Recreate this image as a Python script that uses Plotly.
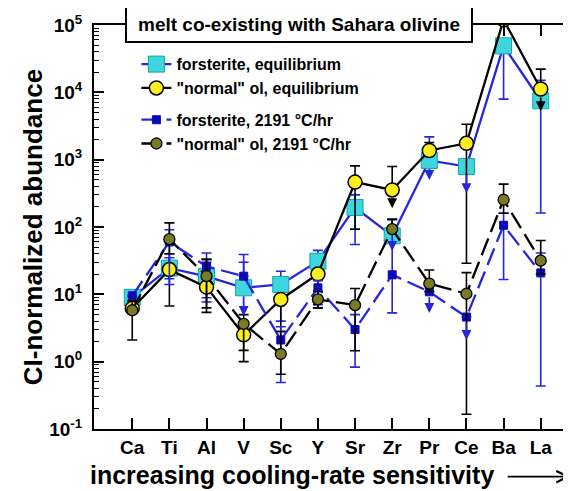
import math
import plotly.graph_objects as go

# ---------------- data ----------------
categories = ["Ca", "Ti", "Al", "V", "Sc", "Y", "Sr", "Zr", "Pr", "Ce", "Ba", "La"]

# forsterite, equilibrium
fo_eq = [9.0, 24.5, 18.5, 12.5, 14.0, 31, 195, 74, 975, 790, 49000, 7500]
fo_eq_hi = [11, 35, 30, 39, 22, 45, 300, 130, 2180, None, None, 15100]
fo_eq_lo = [7.5, 17, 8.9, None, 4.0, 25, 55, None, None, None, 7940, 161]
fo_eq_arrow = [None, None, None, 4.8, None, None, None, 44, 500, 319, None, None]

# "normal" ol, equilibrium
ol_eq = [6.2, 23.3, 12.8, 2.5, 8.4, 20, 464, 355, 1370, 1750, 120000, 11200]
ol_eq_hi = [None, 40, 33, 3.6, None, None, 810, 790, 1800, 3360, None, 22100]
ol_eq_lo = [None, 6.7, 5.4, 1.0, 2.8, 6.3, 93, None, None, 29, None, None]
ol_eq_arrow = [None, None, None, None, None, None, None, 190, None, None, None, 5250]

# forsterite, 2191 C/hr
fo_cr = [9.5, 60, 26, 18.6, 2.1, 12.5, 3.0, 19.5, 10.9, 4.6, 106, 20.8]
fo_cr_hi = [None, 91, 41, 30, 3.3, 16, 5, 130, None, None, 160, 41]
fo_cr_lo = [None, 14, 7.7, None, 0.49, 7, 0.83, 5.3, None, None, 16.6, 0.436]
fo_cr_arrow = [None, None, None, None, None, None, None, None, 5.3, 2.1, None, None]

# "normal" ol, 2191 C/hr
ol_cr = [5.8, 66, 18.6, 3.65, 1.3, 8.4, 6.9, 93, 14.4, 10.2, 254, 31.6]
ol_cr_hi = [8, 115, 33, 5, 2.8, 11, 12.2, 130, 23, 21, 434, 63]
ol_cr_lo = [2.1, 40, 6.3, 1.47, 0.65, 6.3, 1.45, None, 11, 0.166, 160, 20]

# y-axis decades and labels
y_ticks = [1e-1, 1e0, 1e1, 1e2, 1e3, 1e4, 1e5]
y_ticktext = ["10<sup>-1</sup>", "10<sup>0</sup>", "10<sup>1</sup>", "10<sup>2</sup>",
              "10<sup>3</sup>", "10<sup>4</sup>", "10<sup>5</sup>"]

BLUE = "#2626dc"
NAVY = "#0b0bb4"
CYAN = "#3ed6de"
YELLOW = "#ffee1e"
OLIVE = "#7a7a22"
FONT = "Liberation Sans, Arial, sans-serif"

x = list(range(len(categories)))


def err(vals, hi, lo):
    plus = [(h - v) if h is not None else 0 for v, h in zip(vals, hi)]
    minus = [(v - l) if l is not None else 0 for v, l in zip(vals, lo)]
    return plus, minus


fig = go.Figure()


def add_series(name, vals, hi, lo, line_color, dash, marker, err_color, group):
    plus, minus = err(vals, hi, lo)
    fig.add_trace(go.Scatter(
        x=x, y=vals, name=name, mode="lines+markers",
        legendgroup=group,
        line=dict(color=line_color, width=2.3, dash=dash),
        marker=marker,
        error_y=dict(type="data", symmetric=False, array=plus, arrayminus=minus,
                     color=err_color, thickness=1.6, width=5),
    ))


add_series("forsterite, equilibrium", fo_eq, fo_eq_hi, fo_eq_lo, BLUE, "solid",
           dict(symbol="square", size=16, color=CYAN, line=dict(color="#17a3ad", width=1)),
           BLUE, "eq")
add_series('"normal" ol, equilibrium', ol_eq, ol_eq_hi, ol_eq_lo, "black", "solid",
           dict(symbol="circle", size=14, color=YELLOW, line=dict(color="black", width=1.5)),
           "black", "eq")
add_series("forsterite, 2191 °C/hr", fo_cr, fo_cr_hi, fo_cr_lo, BLUE, "18px,7px",
           dict(symbol="square", size=8, color=NAVY, line=dict(color=NAVY, width=1)),
           BLUE, "cr")
add_series('"normal" ol, 2191 °C/hr', ol_cr, ol_cr_hi, ol_cr_lo, "black", "18px,7px",
           dict(symbol="circle", size=11, color=OLIVE, line=dict(color="black", width=1.3)),
           "black", "cr")

# upper-limit arrows
annotations = []
for vals, arrows, col, off in [(fo_eq, fo_eq_arrow, BLUE, 7), (ol_eq, ol_eq_arrow, "black", 7),
                               (fo_cr, fo_cr_arrow, BLUE, 4)]:
    for i, (v, a) in enumerate(zip(vals, arrows)):
        if a is None:
            continue
        annotations.append(dict(
            x=i, y=math.log10(a), ax=i, ay=math.log10(v), xref="x", yref="y",
            axref="x", ayref="y", text="", showarrow=True, arrowhead=2,
            arrowsize=1.1, arrowwidth=1.8, arrowcolor=col, startstandoff=off))

# title box
annotations.append(dict(
    x=0.4256, y=1.047, xref="paper", yref="paper", xanchor="center", yanchor="top",
    text="melt co-existing with Sahara olivine", showarrow=False,
    font=dict(family=FONT, size=19, color="black", weight="bold"),
    bgcolor="white", bordercolor="black", borderwidth=2, borderpad=1,
    width=342, height=31))

# y title
annotations.append(dict(
    x=-0.126, y=0.5, xref="paper", yref="paper", xanchor="center", yanchor="middle",
    text="CI-normalized abundance", textangle=-90, showarrow=False,
    font=dict(family=FONT, size=26, color="black", weight="bold")))

# x title
annotations.append(dict(
    x=0.41, y=-0.114, xref="paper", yref="paper", xanchor="center", yanchor="middle",
    text="increasing cooling-rate sensitivity", showarrow=False,
    font=dict(family=FONT, size=25, color="black", weight="bold")))
annotations.append(dict(
    x=0.988, y=-0.118, ax=-64, ay=0, xref="paper", yref="paper",
    axref="pixel", ayref="pixel", text="", showarrow=True, arrowhead=5,
    arrowsize=1.4, arrowwidth=1.6, arrowcolor="black"))

fig.update_layout(
    width=571, height=491,
    margin=dict(l=86, r=1, t=17, b=70),
    plot_bgcolor="white", paper_bgcolor="white",
    font=dict(family=FONT, color="black"),
    showlegend=True,
    legend=dict(x=0.088, y=0.945, xanchor="left", yanchor="top",
                bgcolor="rgba(0,0,0,0)", traceorder="grouped", tracegroupgap=8,
                font=dict(family=FONT, size=16, color="black", weight="bold"),
                itemwidth=30),
    annotations=annotations,
)

fig.update_xaxes(
    range=[-1.03, 11.95], tickmode="array", tickvals=x, ticktext=categories,
    showline=True, linecolor="black", linewidth=2, mirror="ticks",
    ticks="inside", ticklen=11, tickwidth=2, tickcolor="black",
    showgrid=False, zeroline=False,
    tickfont=dict(family=FONT, size=19, color="black", weight="bold"),
)
fig.update_yaxes(
    type="log", range=[-1, 5], tickmode="array", tickvals=y_ticks, ticktext=y_ticktext,
    showline=True, linecolor="black", linewidth=2, mirror="ticks",
    ticks="inside", ticklen=10, tickwidth=2, tickcolor="black",
    minor=dict(ticks="inside", ticklen=5, tickwidth=1, tickcolor="black", dtick="D1", showgrid=False),
    showgrid=False, zeroline=False, ticklabelstandoff=6,
    tickfont=dict(family=FONT, size=19, color="black", weight="bold"),
)

fig.write_html("out.html")
